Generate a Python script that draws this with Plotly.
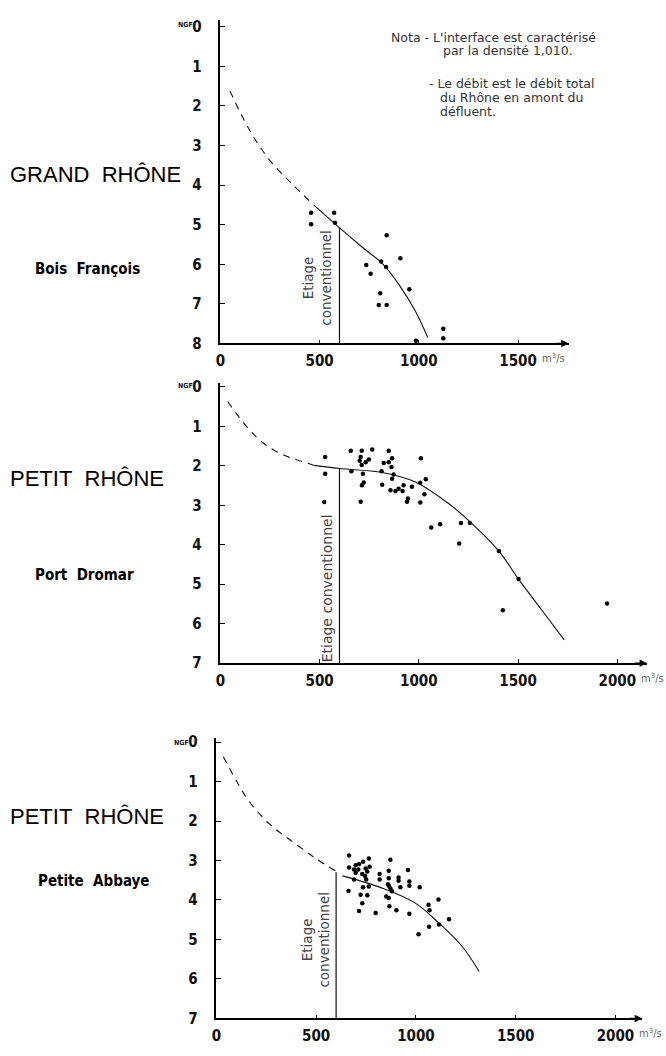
import plotly.graph_objects as go

W, H = 666, 1056

# ---------------- DATA ----------------
# Panel 1 : GRAND RHÔNE - Bois François
p1_x = [457, 457, 573, 577, 838, 907, 735, 757, 810, 835, 952, 805, 798, 838, 985, 1123, 1123]
p1_y = [4.7, 4.99, 4.7, 4.95, 5.27, 5.85, 6.02, 6.24, 5.93, 6.07, 6.63, 6.73, 7.03, 7.03, 7.93, 7.63, 7.87]
p1_dash_x = [48, 148, 248, 365, 470]
p1_dash_y = [1.62, 2.62, 3.37, 3.99, 4.5]
p1_curve_x = [470, 598, 715, 815, 898, 982, 1045]
p1_curve_y = [4.5, 5.07, 5.57, 5.98, 6.5, 7.18, 7.85]
p1_etiage_top = 5.07

# Panel 2 : PETIT RHÔNE - Port Dromar
p2_x = [528, 528, 523, 657, 660, 712, 707, 702, 732, 765, 748, 712, 718, 722, 713, 707,
        848, 865, 848, 823, 862, 812, 873, 865, 815, 857, 882, 898, 918, 923, 965, 945,
        940, 1010, 1007, 1035, 1028, 1007, 1062, 1107, 1212, 1257, 1203, 1403, 1502, 1423, 1948]
p2_y = [1.78, 2.2, 2.92, 1.62, 2.14, 1.62, 1.78, 1.87, 1.91, 1.59, 1.84, 1.98, 2.2, 2.42, 2.49, 2.91,
        1.62, 1.81, 1.91, 1.93, 2.03, 2.14, 2.22, 2.33, 2.48, 2.62, 2.64, 2.58, 2.64, 2.49, 2.53, 2.83,
        2.91, 1.81, 2.43, 2.34, 2.72, 2.93, 3.56, 3.48, 3.45, 3.45, 3.97, 4.16, 4.87, 5.66, 5.49]
p2_dash_x = [37, 80, 115, 160, 198, 255, 315, 380, 448, 473]
p2_dash_y = [0.37, 0.67, 0.9, 1.16, 1.35, 1.56, 1.72, 1.84, 1.95, 1.99]
p2_curve_x = [473, 598, 815, 982, 1148, 1265, 1403, 1502, 1620, 1732]
p2_curve_y = [1.99, 2.07, 2.17, 2.41, 2.95, 3.45, 4.16, 4.87, 5.66, 6.41]
p2_etiage_top = 2.08

# Panel 3 : PETIT RHÔNE - Petite Abbaye
p3_x = [665, 764, 872, 665, 698, 715, 735, 690, 711, 748, 768, 698, 731, 756, 745, 690, 751,
        818, 818, 864, 864, 864, 913, 913, 960, 967, 967, 922, 860, 872, 880, 662, 735, 764,
        723, 756, 851, 864, 731, 715, 798, 867, 902, 967, 1019, 1063, 1068, 1113, 1116, 1066,
        1166, 1013]
p3_y = [2.87, 2.95, 2.98, 3.18, 3.12, 3.09, 3.03, 3.23, 3.23, 3.2, 3.16, 3.31, 3.34, 3.28, 3.39, 3.48, 3.48,
        3.34, 3.48, 3.26, 3.45, 3.64, 3.43, 3.51, 3.24, 3.53, 3.64, 3.68, 3.6, 3.7, 3.78, 3.77, 3.68, 3.66,
        3.87, 3.88, 3.91, 3.95, 4.08, 4.28, 4.33, 4.16, 4.26, 4.35, 3.68, 4.12, 4.26, 3.99, 4.62, 4.68,
        4.49, 4.87]
p3_dash_x = [35, 101, 168, 267, 383, 499, 602]
p3_dash_y = [0.37, 0.99, 1.53, 2.08, 2.53, 2.95, 3.28]
p3_curve_x = [632, 831, 997, 1116, 1229, 1317]
p3_curve_y = [3.39, 3.7, 4.08, 4.59, 5.16, 5.81]
p3_etiage_top = 3.3

etiage_q = 600
y_ticks_1 = [0, 1, 2, 3, 4, 5, 6, 7, 8]
y_ticks_23 = [0, 1, 2, 3, 4, 5, 6, 7]
x_ticks_1 = [0, 500, 1000, 1500]
x_ticks_23 = [0, 500, 1000, 1500, 2000]

# ---------------- FIGURE ----------------
fig = go.Figure()
DIG = ("Noto Sans ExtraCondensed, Noto Sans Condensed, Liberation Sans Narrow, "
       "DejaVu Sans Condensed, sans-serif")
THIN = "DejaVu Sans, Noto Sans, sans-serif"

panels = [
    ("", p1_x, p1_y, p1_dash_x, p1_dash_y, p1_curve_x, p1_curve_y, p1_etiage_top, 8),
    ("2", p2_x, p2_y, p2_dash_x, p2_dash_y, p2_curve_x, p2_curve_y, p2_etiage_top, 7),
    ("3", p3_x, p3_y, p3_dash_x, p3_dash_y, p3_curve_x, p3_curve_y, p3_etiage_top, 7),
]
for sfx, px, py, dx, dy, cx, cy, et, ybot in panels:
    xa, ya = "x" + sfx, "y" + sfx
    fig.add_trace(go.Scatter(x=dx, y=dy, mode="lines", xaxis=xa, yaxis=ya,
                             line=dict(color="#111", width=1.1, dash="7px,6px", shape="spline")))
    fig.add_trace(go.Scatter(x=cx, y=cy, mode="lines", xaxis=xa, yaxis=ya,
                             line=dict(color="#111", width=1.1, shape="spline")))
    fig.add_trace(go.Scatter(x=[etiage_q, etiage_q], y=[et, ybot], mode="lines", xaxis=xa, yaxis=ya,
                             line=dict(color="#111", width=1.2)))
    fig.add_trace(go.Scatter(x=px, y=py, mode="markers", xaxis=xa, yaxis=ya,
                             marker=dict(color="#000", size=4.5)))

def yax(dom_px, rng, ticks, anchor):
    return dict(domain=[1 - dom_px[1] / H, 1 - dom_px[0] / H], range=rng, showgrid=False, zeroline=False,
                showline=True, linecolor="#000", linewidth=1.6, ticks="inside", ticklen=5, tickwidth=1.2,
                tickcolor="#000", tickvals=ticks, ticklabelstandoff=14, anchor=anchor,
                tickfont=dict(family=DIG, size=15, color="#111", weight="bold"))

def xax(dom_px, rng, ticks, anchor):
    return dict(domain=[dom_px[0] / W, dom_px[1] / W], range=rng, showgrid=False, zeroline=False,
                showline=True, linecolor="#000", linewidth=1.6, ticks="inside", ticklen=4, tickwidth=1.2,
                tickcolor="#000", tickvals=ticks, ticklabelstandoff=3, anchor=anchor,
                tickfont=dict(family=DIG, size=15, color="#111", weight="bold"))

fig.update_layout(
    width=W, height=H, margin=dict(l=0, r=0, t=0, b=0), showlegend=False,
    paper_bgcolor="white", plot_bgcolor="white",
    xaxis=xax((217, 568), [0, 1755], x_ticks_1, "y"),
    yaxis=yax((15, 343), [8, -0.175], y_ticks_1, "x"),
    xaxis2=xax((217, 647), [0, 2150], x_ticks_23, "y2"),
    yaxis2=yax((383, 667), [7, -0.1], y_ticks_23, "x2"),
    xaxis3=xax((213, 642), [0, 2134], x_ticks_23, "y3"),
    yaxis3=yax((743, 1027), [7, -0.1], y_ticks_23, "x3"),
)

ann = []
# arrows at the end of x axes
for xr, yr, xm, yb in [("x", "y", 1755, 8), ("x2", "y2", 2150, 7), ("x3", "y3", 2134, 7)]:
    ann.append(dict(x=xm, y=yb, xref=xr, yref=yr, ax=-14, ay=0, text="", showarrow=True,
                    arrowhead=2, arrowsize=1, arrowwidth=1.5, arrowcolor="#000"))
# units
for xr, yr, xv, yb in [("x", "y", 1610, 8), ("x2", "y2", 2110, 7), ("x3", "y3", 2110, 7)]:
    ann.append(dict(x=xv, y=yb, xref=xr, yref=yr, yshift=-15, text="m<sup>3</sup>/s", showarrow=False,
                    xanchor="left", font=dict(family=THIN, size=10, color="#666")))
# NGF
for xpix, ypix in [(190, 20), (190, 386), (186, 748)]:
    ann.append(dict(x=xpix / W, y=1 - ypix / H, xref="paper", yref="paper", text="NGF", showarrow=False,
                    xanchor="right", yanchor="middle", borderpad=0,
                    font=dict(family=DIG, size=7, color="#111", weight="bold")))
# Etiage labels
ann.append(dict(x=490, y=6.35, xref="x", yref="y", text="Etiage<br>conventionnel", textangle=-90,
                showarrow=False, font=dict(family=THIN, size=13.5, color="#444")))
ann.append(dict(x=538, y=5.1, xref="x2", yref="y2", text="Etiage conventionnel", textangle=-90,
                showarrow=False, font=dict(family=THIN, size=14, color="#444")))
ann.append(dict(x=500, y=5.0, xref="x3", yref="y3", text="Etiage<br>conventionnel", textangle=-90,
                showarrow=False, font=dict(family=THIN, size=13.5, color="#444")))
# Titles
NB = "\u00a0\u00a0"
titles = [("GRAND" + NB + "RHÔNE", 3, 172, 22, False), ("Bois" + NB + "François", 28, 268, 15, True),
          ("PETIT" + NB + "RHÔNE", 3, 480, 22, False), ("Port" + NB + "Dromar", 28, 578, 15, True),
          ("PETIT" + NB + "RHÔNE", 3, 822, 22, False), ("Petite" + NB + "Abbaye", 31, 888, 15, True)]
for t, xp, yp, sz, bold in titles:
    ann.append(dict(x=xp / W, y=1 - yp / H, xref="paper", yref="paper", text=t, showarrow=False,
                    xanchor="left", yanchor="middle",
                    font=dict(family=DIG if bold else "Liberation Sans, Arial, sans-serif", size=sz,
                              color="#000", weight="bold" if bold else "normal")))
# Nota
nota = [("Nota - L'interface est caractérisé", 388, 33), ("par la densité 1,010.", 440, 46),
        ("- Le débit est le débit total", 426, 80), ("du Rhône en amont du", 437, 94),
        ("défluent.", 437, 108)]
for t, xp, yp in nota:
    ann.append(dict(x=xp / W, y=1 - yp / H, xref="paper", yref="paper", text=t, showarrow=False,
                    xanchor="left", yanchor="middle", borderpad=0,
                    font=dict(family=THIN, size=12.5, color="#333")))
fig.update_layout(annotations=ann)

fig.write_html("out.html")
